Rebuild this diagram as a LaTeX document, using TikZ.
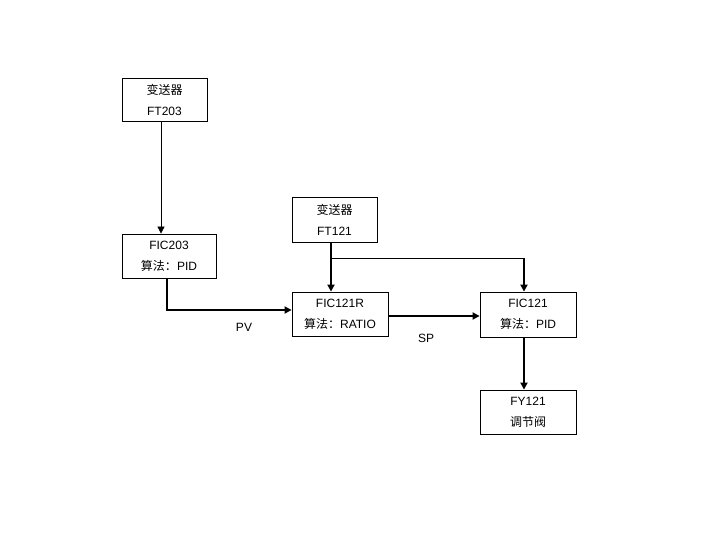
\documentclass[tikz,border=0pt]{standalone}
\usepackage{fontspec}
\setmainfont{Liberation Sans}
\newfontfamily\cjk{Noto Sans CJK SC}
\usetikzlibrary{arrows.meta}
\tikzset{
    blocco/.style={draw, line width=0.8pt, align=center, inner sep=0pt,
        font=\fontsize{12}{21}\selectfont},
    segnale/.style={line width=1.8pt, -{Triangle[length=7pt,width=7pt]}},
    filo/.style={line width=0.8pt},
    etichetta/.style={font=\fontsize{12}{14}\selectfont}
}
\begin{document}
\begin{tikzpicture}[x=1pt,y=-1pt]
        \useasboundingbox (0,0) rectangle (720,540);

        %%%%%%%%% Blocchi %%%%%%%%%
        \node[blocco, minimum width=85, minimum height=43] (ft203) at (164.5,99.5) {{\cjk 变送器}\\FT203};
        \node[blocco, minimum width=94, minimum height=44] (fic203) at (169,256) {FIC203\\{\cjk 算法：}PID};
        \node[blocco, minimum width=85, minimum height=45] (ft121) at (334.5,219.5) {{\cjk 变送器}\\FT121};
        \node[blocco, minimum width=96, minimum height=44] (fic121r) at (340,314) {FIC121R\\{\cjk 算法：}RATIO};
        \node[blocco, minimum width=96, minimum height=45] (fic121) at (528,314.5) {FIC121\\{\cjk 算法：}PID};
        \node[blocco, minimum width=96, minimum height=44] (fy121) at (528,412) {FY121\\{\cjk 调节阀}};

        %%%%%%%%% Etichette %%%%%%%%%
        \node[etichetta] (pv) at (244,327) {PV};
        \node[etichetta] (sp) at (426,338) {SP};

        %%%%%%%%% Collegamenti %%%%%%%%%
        \draw[filo, -{Triangle[length=7pt,width=7pt]}] ([xshift=-3.5pt]ft203.south) -- ([xshift=-3.5pt]ft203.south |- fic203.north);
        \draw[segnale] ([xshift=-2pt]fic203.south) |- ([yshift=4pt]fic121r.west);
        \draw[segnale] ([xshift=-3.5pt]ft121.south) -- ([xshift=-3.5pt]ft121.south |- fic121r.north);

        \coordinate (presa) at (331,258);
        \coordinate (angolo) at (524,258);
        \draw[filo] (presa) -- (angolo);
        \draw[segnale] (angolo) -- (angolo |- fic121.north);

        \draw[segnale] ([yshift=-2pt]fic121r.east) -- ([yshift=-2pt]fic121r.east -| fic121.west);
        \draw[segnale] ([xshift=-4pt]fic121.south) -- ([xshift=-4pt]fic121.south |- fy121.north);
    \end{tikzpicture}
\end{document}
